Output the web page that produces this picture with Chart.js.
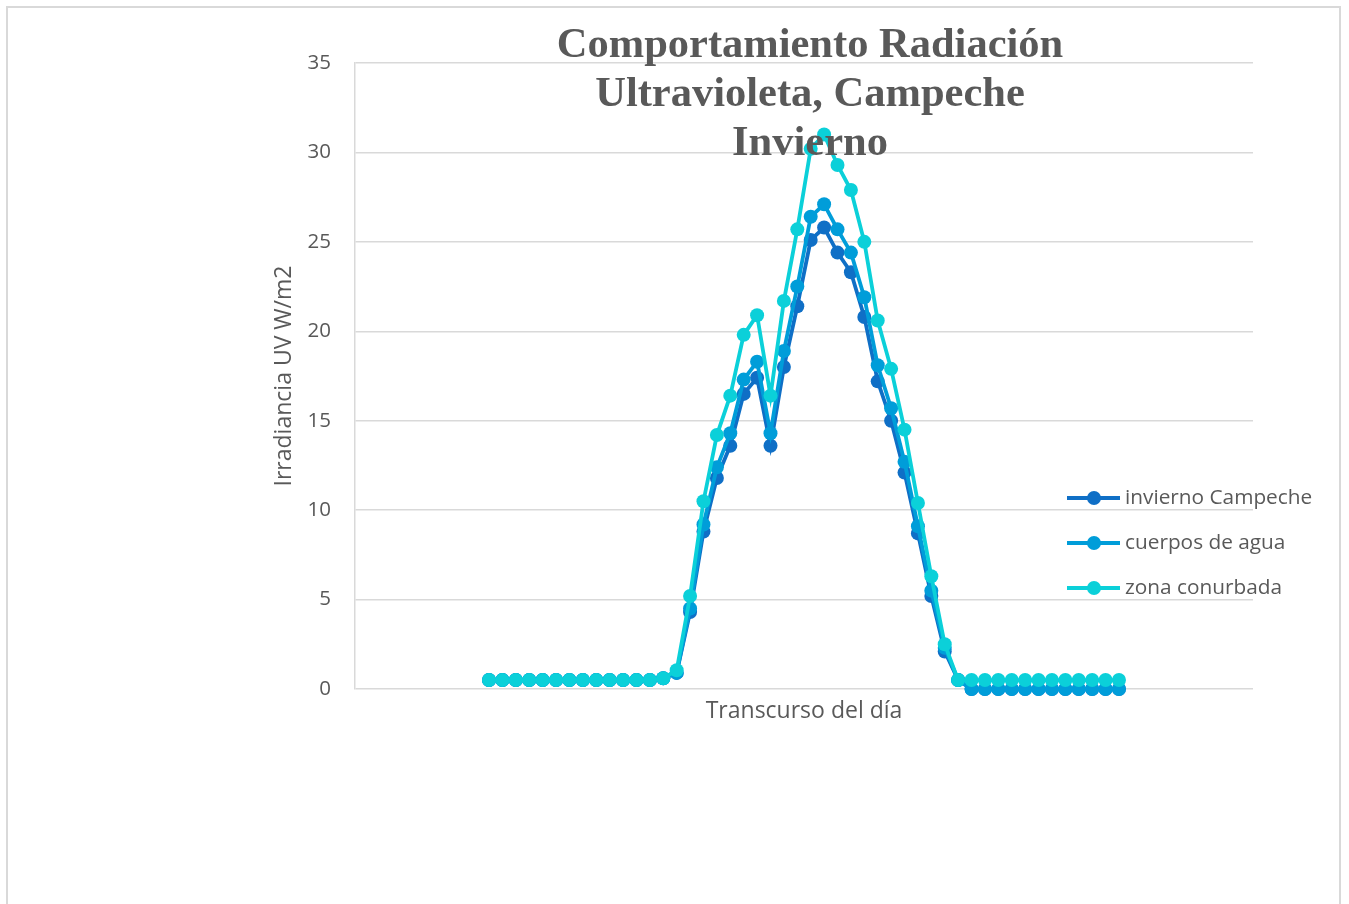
<!DOCTYPE html>
<html>
<head>
<meta charset="utf-8">
<script src="https://cdn.jsdelivr.net/npm/chart.js@4/dist/chart.umd.min.js"></script>
<style>
  body { margin: 0; background: #fff; }
  #marco { position: absolute; left: 6px; top: 6px; width: 1331px; height: 940px; border: 2px solid #d9d9d9; }
  #grafica { position: absolute; left: 0; top: 0; }
</style>
</head>
<body>
<div id="marco"></div>
<canvas id="grafica" width="1349" height="904"></canvas>
<script>

// categorias del eje x (transcurso del dia, sin etiquetas visibles)
var categorias = Array.from({ length: 68 }, function (_, i) { return String(i); });

var inviernoCampeche = [
    null, null, null, null, null, null, null, null, null, null,
    0.5, 0.5, 0.5, 0.5, 0.5, 0.5, 0.5, 0.5, 0.5, 0.5, 0.5, 0.5, 0.5,
    0.6, 0.9, 4.3, 8.8, 11.8, 13.6, 16.5, 17.4, 13.6, 18.0, 21.4, 25.1,
    25.8, 24.4, 23.3, 20.8, 17.2, 15.0, 12.1, 8.7, 5.2, 2.1, 0.5,
    0, 0, 0, 0, 0, 0, 0, 0, 0, 0, 0, 0,
    null, null, null, null, null, null, null, null, null, null
];

var cuerposDeAgua = [
    null, null, null, null, null, null, null, null, null, null,
    0.5, 0.5, 0.5, 0.5, 0.5, 0.5, 0.5, 0.5, 0.5, 0.5, 0.5, 0.5, 0.5,
    0.6, 0.9, 4.5, 9.2, 12.4, 14.3, 17.3, 18.3, 14.3, 18.9, 22.5, 26.4,
    27.1, 25.7, 24.4, 21.9, 18.1, 15.7, 12.7, 9.1, 5.5, 2.3, 0.5,
    0, 0, 0, 0, 0, 0, 0, 0, 0, 0, 0, 0,
    null, null, null, null, null, null, null, null, null, null
];

var zonaConurbada = [
    null, null, null, null, null, null, null, null, null, null,
    0.5, 0.5, 0.5, 0.5, 0.5, 0.5, 0.5, 0.5, 0.5, 0.5, 0.5, 0.5, 0.5,
    0.6, 1.05, 5.2, 10.5, 14.2, 16.4, 19.8, 20.9, 16.4, 21.7, 25.7, 30.2,
    31.0, 29.3, 27.9, 25.0, 20.6, 17.9, 14.5, 10.4, 6.3, 2.5, 0.5,
    0.5, 0.5, 0.5, 0.5, 0.5, 0.5, 0.5, 0.5, 0.5, 0.5, 0.5, 0.5,
    null, null, null, null, null, null, null, null, null, null
];

var nombres = ['invierno Campeche', 'cuerpos de agua', 'zona conurbada'];
var colores = ['#0F6FC6', '#009DD9', '#0BD0D9'];
var tituloLineas = ['Comportamiento Radiación', 'Ultravioleta, Campeche', 'Invierno'];

var gris = '#595959';
var fuente = '"Open Sans", "Noto Sans", sans-serif';

function serie(i, datos, orden) {
    return {
        label: nombres[i],
        data: datos,
        borderColor: colores[i],
        backgroundColor: colores[i],
        pointBackgroundColor: colores[i],
        pointBorderColor: colores[i],
        borderWidth: 3.8,
        pointRadius: 7,
        pointBorderWidth: 0,
        fill: false,
        tension: 0,
        clip: false,
        order: orden
    };
}

// titulo y leyenda dibujados encima del area de trazado
var encima = {
    id: 'encima',
    afterDraw: function (chart) {
        var ctx = chart.ctx;
        ctx.save();
        ctx.fillStyle = gris;
        ctx.font = 'bold 42.5px "Liberation Serif", "Times New Roman", serif';
        ctx.textAlign = 'center';
        ctx.textBaseline = 'alphabetic';
        tituloLineas.forEach(function (t, k) {
            ctx.fillText(t, 810, 57 + k * 49);
        });

        ctx.font = '20.8px ' + fuente;
        ctx.textAlign = 'left';
        ctx.textBaseline = 'middle';
        nombres.forEach(function (n, k) {
            var y = 498 + k * 45;
            ctx.strokeStyle = colores[k];
            ctx.lineWidth = 3.8;
            ctx.beginPath();
            ctx.moveTo(1067, y);
            ctx.lineTo(1120, y);
            ctx.stroke();
            ctx.fillStyle = colores[k];
            ctx.beginPath();
            ctx.arc(1094, y, 7, 0, Math.PI * 2);
            ctx.fill();
            ctx.fillStyle = gris;
            ctx.fillText(n, 1125, y);
        });
        ctx.restore();
    }
};

var ctx = document.getElementById('grafica').getContext('2d');
var chart = new Chart(ctx, {
    type: 'line',
    data: {
        labels: categorias,
        datasets: [
            serie(0, inviernoCampeche, 3),
            serie(1, cuerposDeAgua, 2),
            serie(2, zonaConurbada, 1)
        ]
    },
    options: {
        responsive: false,
        animation: false,
        spanGaps: false,
        layout: { padding: { left: 269, right: 96, top: 63, bottom: 179 } },
        plugins: {
            legend: { display: false },
            title: { display: false },
            tooltip: { enabled: false }
        },
        scales: {
            x: {
                offset: false,
                grid: { display: false },
                border: { display: false },
                ticks: { display: false },
                title: {
                    display: true,
                    text: 'Transcurso del día',
                    color: gris,
                    font: { family: fuente, size: 23 },
                    padding: { top: 4, bottom: 0 }
                },
                afterFit: function (s) { s.height = 36; }
            },
            y: {
                min: 0,
                max: 35,
                ticks: {
                    stepSize: 5,
                    color: gris,
                    padding: 24,
                    font: { family: fuente, size: 20.5 }
                },
                grid: { color: '#d9d9d9', lineWidth: 1.5, drawTicks: false },
                border: { display: true, color: '#d9d9d9', width: 1.5 },
                title: {
                    display: true,
                    text: 'Irradiancia UV W/m2',
                    color: gris,
                    font: { family: fuente, size: 23 },
                    padding: { top: 2, bottom: 0 }
                },
                afterFit: function (s) { s.width = 86; }
            }
        }
    },
    plugins: [encima]
});

</script>
</body>
</html>
